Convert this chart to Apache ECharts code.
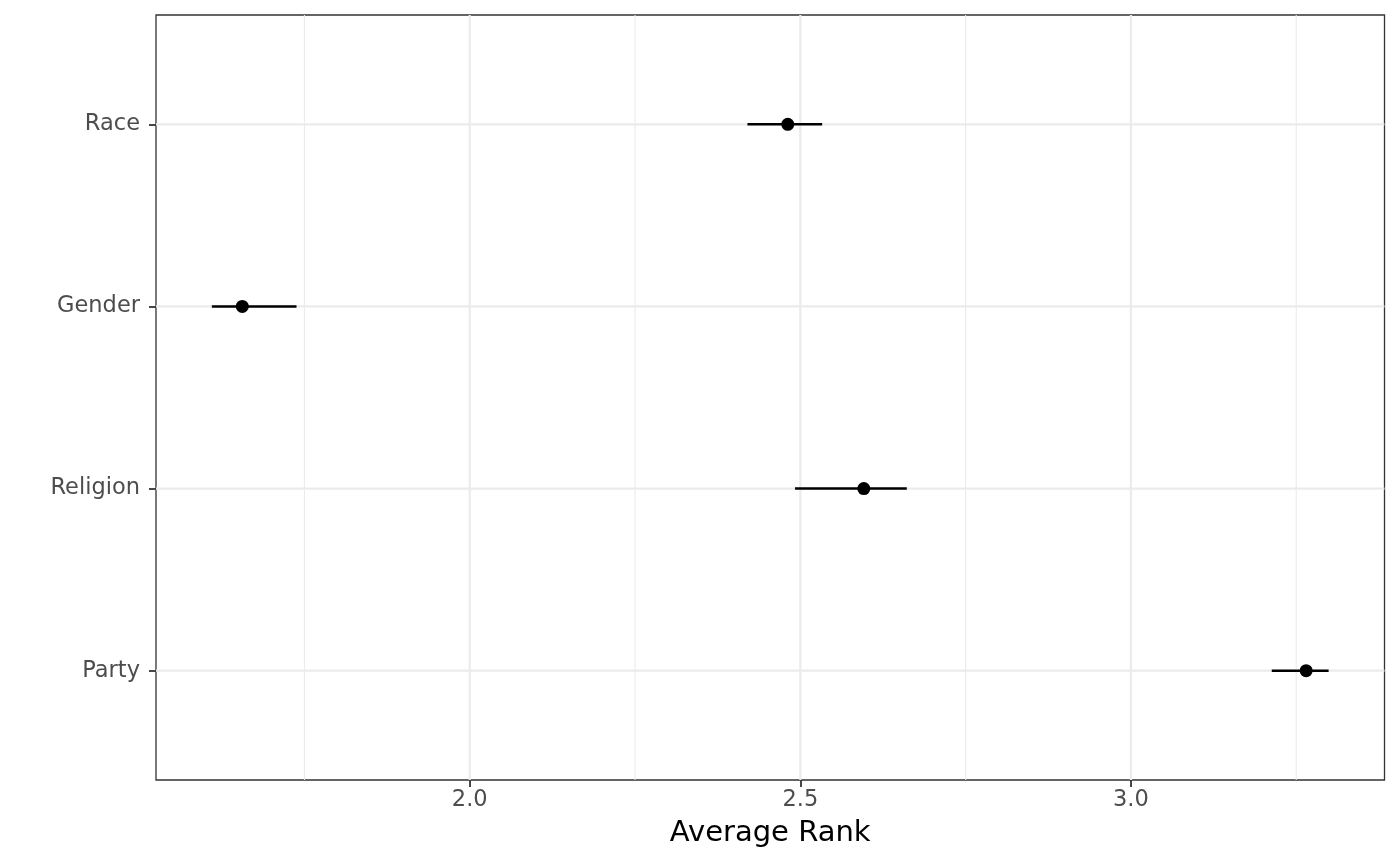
<!DOCTYPE html>
<html>
<head>
<meta charset="utf-8">
<script src="https://cdn.jsdelivr.net/npm/echarts@6/dist/echarts.min.js"></script>
<style>
html,body{margin:0;padding:0;background:#fff;}
#chart{width:1400px;height:865px;}
</style>
</head>
<body>
<div id="chart"></div>
<script>
// categories, bottom to top
var categories = ['Party', 'Religion', 'Gender', 'Race'];
var estimates = [3.265, 2.596, 1.656, 2.481];
var lowers = [3.213, 2.492, 1.610, 2.420];
var uppers = [3.299, 2.661, 1.738, 2.533];
var xTicks = [2.0, 2.5, 3.0];
var xMinorGrid = [1.75, 2.25, 2.75, 3.25];
var yTicks = [1, 2, 3, 4];
var xTitle = 'Average Rank';

var X_MIN = 1.5255, X_MAX = 3.3835, Y_MIN = 0.4, Y_MAX = 4.6;
var FONT = 'DejaVu Sans';

var pointData = estimates.map(function (v, i) { return [v, i + 1]; });
var barData = lowers.map(function (lo, i) { return [lo, uppers[i], i + 1]; });
var vGridData = xMinorGrid.map(function (v) { return [v, 1.1]; })
  .concat(xTicks.map(function (v) { return [v, 2.2]; }));
var hGridData = yTicks.map(function (v) { return [v, 2.2]; });

var chart = echarts.init(document.getElementById('chart'), null, {renderer: 'canvas'});
chart.setOption({
  animation: false,
  backgroundColor: '#ffffff',
  grid: {
    left: 156, right: 15.5, top: 15, bottom: 85,
    show: true, borderColor: '#333333', borderWidth: 1.3, backgroundColor: 'transparent'
  },
  xAxis: {
    type: 'value', min: X_MIN, max: X_MAX,
    name: xTitle, nameLocation: 'middle', nameGap: 39,
    nameTextStyle: {color: '#000000', fontSize: 29, fontFamily: FONT},
    axisLine: {show: false},
    axisTick: {show: true, length: 7, customValues: xTicks, lineStyle: {color: '#333333', width: 1.8}},
    axisLabel: {show: true, customValues: xTicks, margin: 9, color: '#4d4d4d', fontSize: 22.5, fontFamily: FONT,
      formatter: function (v) { return v.toFixed(1); }},
    splitLine: {show: false}
  },
  yAxis: {
    type: 'value', min: Y_MIN, max: Y_MAX,
    axisLine: {show: false},
    axisTick: {show: true, length: 7, customValues: yTicks, lineStyle: {color: '#333333', width: 1.8}},
    axisLabel: {show: true, customValues: yTicks, margin: 16, color: '#4d4d4d', fontSize: 22.5, fontFamily: FONT,
      formatter: function (v) { return categories[Math.round(v) - 1] || ''; }},
    splitLine: {show: false}
  },
  series: [
    {
      type: 'custom', z: 1, silent: true,
      data: vGridData,
      encode: {x: 0},
      renderItem: function (params, api) {
        var v = api.value(0);
        var p1 = api.coord([v, Y_MIN]);
        var p2 = api.coord([v, Y_MAX]);
        return {type: 'line', shape: {x1: p1[0], y1: p1[1], x2: p2[0], y2: p2[1]},
          style: {stroke: '#ebebeb', lineWidth: api.value(1)}};
      }
    },
    {
      type: 'custom', z: 1, silent: true,
      data: hGridData,
      encode: {y: 0},
      renderItem: function (params, api) {
        var v = api.value(0);
        var p1 = api.coord([X_MIN, v]);
        var p2 = api.coord([X_MAX, v]);
        return {type: 'line', shape: {x1: p1[0], y1: p1[1], x2: p2[0], y2: p2[1]},
          style: {stroke: '#ebebeb', lineWidth: api.value(1)}};
      }
    },
    {
      type: 'custom', z: 3,
      data: barData,
      encode: {x: [0, 1], y: 2},
      renderItem: function (params, api) {
        var y = api.value(2);
        var a = api.coord([api.value(0), y]);
        var b = api.coord([api.value(1), y]);
        return {type: 'line', shape: {x1: a[0], y1: a[1], x2: b[0], y2: b[1]},
          style: {stroke: '#000000', lineWidth: 2.6}};
      }
    },
    {
      type: 'scatter', z: 4,
      data: pointData,
      symbol: 'circle', symbolSize: 13,
      itemStyle: {color: '#000000', opacity: 1}
    }
  ]
});
</script>
</body>
</html>
